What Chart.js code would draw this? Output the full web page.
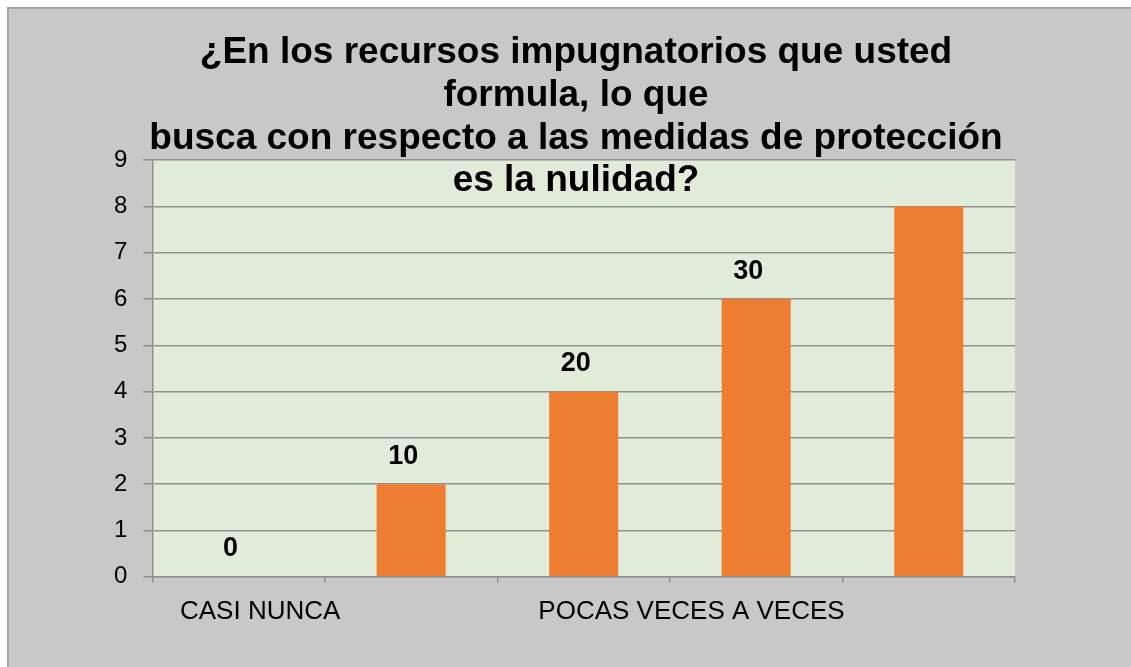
<!DOCTYPE html>
<html>
<head>
<meta charset="utf-8">
<script src="https://cdn.jsdelivr.net/npm/chart.js@4"></script>
<style>
  html, body { margin: 0; padding: 0; background: #fff; overflow: hidden; }
  #box {
    position: absolute; left: 7px; top: 7px; width: 1140px; height: 666px;
    background: #c8c8c8; border-top: 2px solid #a3a3a3; border-left: 2px solid #a3a3a3;
  }
  #wrap { position: absolute; left: -2px; top: -2px; width: 1138px; height: 660px; }
</style>
</head>
<body>
<div id="box"><div id="wrap"><canvas id="chart"></canvas></div></div>
<script>
const categories = ["CASI NUNCA", "POCAS VECES", "A VECES", "CASI SIEMPRE", "SIEMPRE"];
const values = [0, 2, 4, 6, 8];
const valueLabels = ["0", "10", "20", "30", ""];
const axisLabels = ["CASI NUNCA", "", "POCAS VECES A VECES", ""];
const yTicks = [0, 1, 2, 3, 4, 5, 6, 7, 8, 9];

const FONT = "'Liberation Sans', Arial, sans-serif";

const plotBg = {
  id: "plotBg",
  beforeDraw(chart) {
    const { ctx, chartArea: a } = chart;
    ctx.save();
    ctx.fillStyle = "#e0ecd9";
    ctx.fillRect(a.left, a.top, a.right - a.left, a.bottom - a.top);
    ctx.restore();
  }
};

// centre the title over the whole chart, not just the padded box
const wideTitle = {
  id: "wideTitle",
  afterLayout(chart) {
    if (chart.titleBlock) {
      chart.titleBlock.left = 0;
      chart.titleBlock.right = chart.width;
    }
  }
};

const barLabels = {
  id: "barLabels",
  afterDatasetsDraw(chart) {
    const { ctx } = chart;
    const meta = chart.getDatasetMeta(0);
    ctx.save();
    ctx.font = "bold 27px " + FONT;
    ctx.fillStyle = "#000";
    ctx.textAlign = "center";
    ctx.textBaseline = "middle";
    meta.data.forEach((bar, i) => {
      ctx.fillText(valueLabels[i], bar.x - 8, bar.y - 28);
    });
    ctx.restore();
  }
};

new Chart(document.getElementById("chart").getContext("2d"), {
  type: "bar",
  data: {
    labels: categories,
    datasets: [{
      data: values,
      backgroundColor: "#ed7d31",
      barPercentage: 0.8,
      categoryPercentage: 0.5
    }]
  },
  options: {
    responsive: true,
    maintainAspectRatio: false,
    animation: false,
    layout: { padding: { left: 91, right: 130, bottom: 35 } },
    plugins: {
      legend: { display: false },
      tooltip: { enabled: false },
      title: {
        display: true,
        text: [
          "¿En los recursos impugnatorios que usted",
          "formula, lo que",
          "busca con respecto a las medidas de protección",
          "es la nulidad?"
        ],
        color: "#000",
        font: { family: FONT, size: 37, weight: "bold", lineHeight: 1.15 },
        padding: { top: 25, bottom: -42 }
      }
    },
    scales: {
      x: {
        offset: true,
        grid: { drawOnChartArea: false, drawTicks: true, tickLength: 6, color: "#8f8f8f", lineWidth: 1.5, offset: true },
        border: { color: "#8f8f8f", width: 1.5 },
        ticks: { display: false }
      },
      x2: {
        type: "category",
        position: "bottom",
        labels: axisLabels,
        offset: true,
        grid: { display: false },
        border: { display: false },
        ticks: { color: "#000", font: { family: FONT, size: 26 }, padding: 5, maxRotation: 0, autoSkip: false }
      },
      y: {
        min: 0,
        max: 9,
        afterBuildTicks(scale) { scale.ticks = yTicks.map(v => ({ value: v })); },
        grid: { color: "#8f8f8f", lineWidth: 1.5, tickLength: 9 },
        border: { color: "#8f8f8f", width: 1.5 },
        ticks: { color: "#000", font: { family: FONT, size: 24 }, padding: 16 }
      }
    }
  },
  plugins: [plotBg, wideTitle, barLabels]
});
</script>
</body>
</html>
